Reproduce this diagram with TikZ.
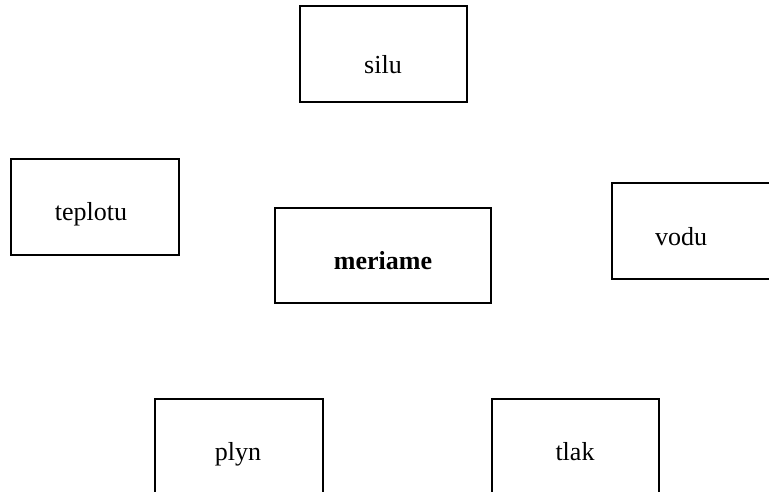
\documentclass[tikz,border=0pt]{standalone}
\usepackage{fontspec}
\setmainfont{Liberation Serif}
\begin{document}
\begin{tikzpicture}[x=1pt,y=-1pt,
  boxst/.style={draw=black,line width=2pt},
  lab/.style={font=\fontsize{26}{30}\selectfont,inner sep=0pt,anchor=center}]
\useasboundingbox (0,0) rectangle (769,492);
\begin{scope}
\clip (0,0) rectangle (769,492);
\draw[boxst] (300,6) rectangle (467,102);
\draw[boxst] (11,159) rectangle (179,255);
\draw[boxst] (275,208) rectangle (491,303);
\draw[boxst] (612,183) rectangle (790,279);
\draw[boxst] (155,399) rectangle (323,510);
\draw[boxst] (492,399) rectangle (659,510);
\end{scope}
\node[lab] (silu) at (383,67) {\vphantom{lpy}silu};
\node[lab] (teplotu) at (91,214) {\vphantom{lpy}teplotu};
\node[lab] (meriame) at (383,263) {\vphantom{lpy}\bfseries meriame};
\node[lab] (vodu) at (681,239) {\vphantom{lpy}vodu};
\node[lab] (plyn) at (238,454) {\vphantom{lpy}plyn};
\node[lab] (tlak) at (575,454) {\vphantom{lpy}tlak};
\end{tikzpicture}
\end{document}
